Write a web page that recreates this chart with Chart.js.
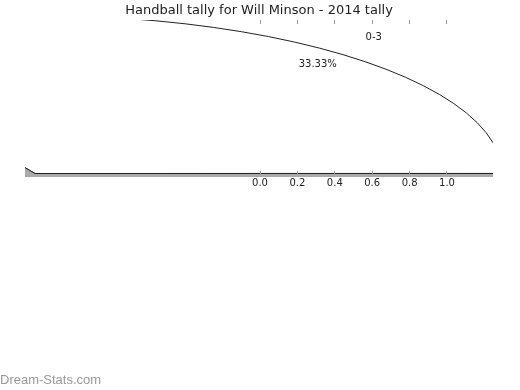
<!DOCTYPE html>
<html>
<head>
<meta charset="utf-8">
<title>Handball tally</title>
<script src="https://cdn.jsdelivr.net/npm/chart.js@4.4.1/dist/chart.umd.min.js"></script>
<style>
  html, body { margin: 0; padding: 0; background: #fff; }
  #wrap { position: relative; width: 520px; height: 390px; }
  #wrap canvas { position: absolute; left: 0; top: 0; }
</style>
</head>
<body>
<div id="wrap">
  <canvas id="cvs_pie" width="520" height="390"></canvas>
  <canvas id="cvs_axis" width="520" height="390"></canvas>
</div>
<script>
// --- data ---
const chartTitle = "Handball tally for Will Minson - 2014 tally";
const categories = ["0-3", "Other"];
const shares = [33.33, 66.67];
const tickValues = [0.0, 0.2, 0.4, 0.6, 0.8, 1.0];
const axisRange = [-1.2567, 1.2460];
const watermarkText = "Dream-Stats.com";

Chart.defaults.font.family = '"DejaVu Sans", sans-serif';
Chart.defaults.color = "#222";

// pie geometry: the pie is drawn as a flat ellipse (3D look), clipped to the plot box
const PIE_CX = 35;
const PIE_CY = 173.5;
const PIE_RX = 467;
const PIE_RY = 158.1;
const RATIO = PIE_RY / PIE_RX;
const PLOT = { left: 25, top: 20, right: 493, bottom: 177 };

function clipPlot(ctx) {
    ctx.beginPath();
    ctx.rect(PLOT.left, PLOT.top, PLOT.right - PLOT.left, PLOT.bottom - PLOT.top);
    ctx.clip();
}

// squash the circle into an ellipse, but stroke the border with the normal transform
const flattenPie = {
    id: "flattenPie",
    beforeDatasetsDraw(chart) {
        const ctx = chart.ctx;
        ctx.save();
        clipPlot(ctx);
        const base = ctx.getTransform();
        ctx.translate(0, PIE_CY);
        ctx.scale(1, RATIO);
        ctx.translate(0, -PIE_CY);
        ctx.stroke = function () {
            this.save();
            this.setTransform(base);
            CanvasRenderingContext2D.prototype.stroke.call(this);
            this.restore();
        };
    },
    afterDatasetsDraw(chart) {
        delete chart.ctx.stroke;
        chart.ctx.restore();
    }
};

// category name outside the slice, percentage inside
const pieLabels = {
    id: "pieLabels",
    afterDatasetsDraw(chart) {
        const ctx = chart.ctx;
        const arcs = chart.getDatasetMeta(0).data;
        const total = shares.reduce((a, b) => a + b, 0);
        ctx.save();
        clipPlot(ctx);
        ctx.font = '10px "DejaVu Sans"';
        ctx.fillStyle = "#222";
        ctx.textAlign = "center";
        ctx.textBaseline = "middle";
        arcs.forEach((arc, i) => {
            const p = arc.getProps(["x", "y", "startAngle", "endAngle", "outerRadius"], true);
            const mid = (p.startAngle + p.endAngle) / 2;
            const at = (shift, f) => {
                const ang = mid + shift * Math.PI / 180;
                return [
                    p.x + Math.cos(ang) * p.outerRadius * f,
                    p.y + Math.sin(ang) * p.outerRadius * f * RATIO + 1
                ];
            };
            ctx.fillText(categories[i], ...at(9.9, 1.131));
            ctx.fillText((shares[i] / total * 100).toFixed(2) + "%", ...at(11, 0.923));
        });
        ctx.restore();
    }
};

new Chart(document.getElementById("cvs_pie"), {
    type: "pie",
    data: {
        labels: categories,
        datasets: [{
            data: shares,
            backgroundColor: ["#ffffff", "#aaaaaa"],
            borderColor: "#222",
            borderWidth: 1
        }]
    },
    options: {
        responsive: false,
        animation: false,
        events: [],
        rotation: -30,
        radius: PIE_RX,
        layout: { padding: { left: 0, top: 0, right: 520 - 2 * PIE_CX, bottom: 390 - 2 * PIE_CY } },
        plugins: { legend: { display: false }, tooltip: { enabled: false } }
    },
    plugins: [flattenPie, pieLabels]
});

// watermark in the lower left corner
const watermark = {
    id: "watermark",
    afterDraw(chart) {
        const ctx = chart.ctx;
        ctx.save();
        ctx.font = '13px "Liberation Sans"';
        ctx.fillStyle = "#999";
        ctx.textAlign = "left";
        ctx.textBaseline = "alphabetic";
        ctx.fillText(watermarkText, 0, 384);
        ctx.restore();
    }
};

const setTicks = scale => { scale.ticks = tickValues.map(v => ({ value: v })); };

new Chart(document.getElementById("cvs_axis"), {
    type: "scatter",
    data: { datasets: [] },
    options: {
        responsive: false,
        animation: false,
        events: [],
        layout: { padding: { left: 25, right: 27, top: 0, bottom: 197.5 } },
        plugins: {
            legend: { display: false },
            tooltip: { enabled: false },
            title: {
                display: true,
                text: chartTitle,
                color: "#222",
                font: { size: 13, weight: "normal" },
                padding: { top: 2.5, bottom: 2 }
            }
        },
        scales: {
            x: {
                type: "linear",
                position: "bottom",
                min: axisRange[0],
                max: axisRange[1],
                afterBuildTicks: setTicks,
                ticks: { callback: v => v.toFixed(1), font: { size: 10 }, color: "#222", padding: 3, autoSkip: false, maxRotation: 0 },
                grid: { drawOnChartArea: false, tickLength: 4, tickColor: "#999" },
                border: { display: false }
            },
            x2: {
                type: "linear",
                position: "top",
                min: axisRange[0],
                max: axisRange[1],
                afterBuildTicks: setTicks,
                ticks: { display: false },
                grid: { drawOnChartArea: false, tickLength: 4, tickColor: "#999" },
                border: { display: false }
            },
            y: { display: false, min: 0, max: 1 }
        }
    },
    plugins: [watermark]
});
</script>
</body>
</html>
